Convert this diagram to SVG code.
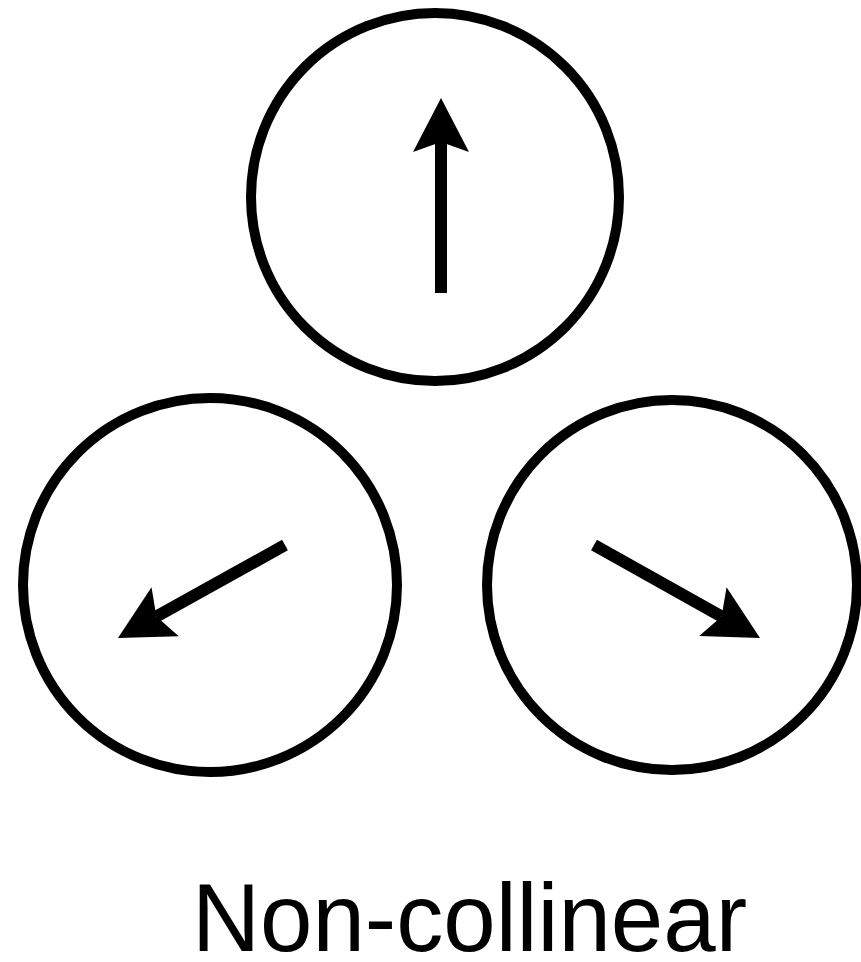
<svg xmlns="http://www.w3.org/2000/svg" width="861" height="962" viewBox="0 0 861 962">
<style>
.ring{fill:none;stroke:#000;stroke-width:10}
.shaft{fill:none;stroke:#000;stroke-width:12;marker-end:url(#head)}
.label{font-family:"Liberation Sans",Arial,sans-serif;font-size:96px;fill:#000}
</style>
<defs>
<marker id="head" markerUnits="userSpaceOnUse" viewBox="-12 -30 58 60" refX="0" refY="0" markerWidth="58" markerHeight="60" orient="auto">
<path d="M44,0 L-10,-28 L0,0 L-10,28 Z" fill="#000"/>
</marker>
</defs>
<rect width="861" height="962" fill="#fff"/>
<g id="top"><circle class="ring" cx="435" cy="197" r="184"/></g>
<g id="left"><circle class="ring" cx="210" cy="585" r="187"/></g>
<g id="right"><circle class="ring" cx="672" cy="585" r="185"/></g>
<g id="connectors">
<line class="shaft" x1="441" y1="293" x2="441" y2="142"/>
<line class="shaft" x1="285" y1="545" x2="156.4" y2="616.6"/>
<line class="shaft" x1="594" y1="545" x2="721.6" y2="616.5"/>
</g>
<text class="label" x="192" y="951" textLength="555" lengthAdjust="spacingAndGlyphs">Non-collinear</text>
</svg>
